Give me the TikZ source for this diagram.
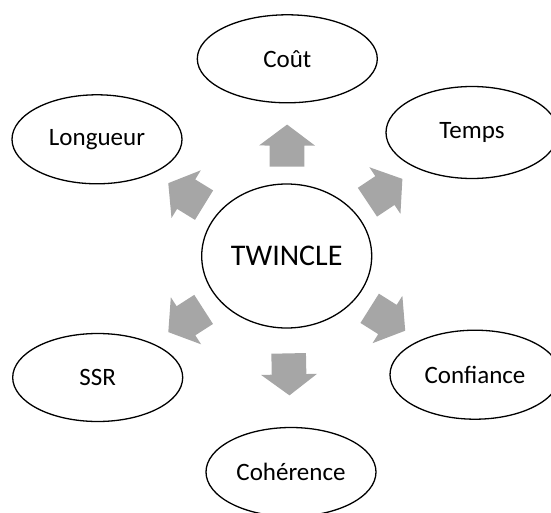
\documentclass[tikz,border=0pt]{standalone}
\usepackage{fontspec}
\setmainfont{Carlito}
\usetikzlibrary{shapes.geometric,calc}
\definecolor{arrowgray}{RGB}{166,166,166}
\tikzset{
  oval/.style={ellipse, draw=black, line width=1.3pt, fill=white, inner sep=0pt,
    minimum width=170pt, minimum height=89pt, font=\fontsize{25}{30}\selectfont},
  bigoval/.style={oval, minimum width=170pt, minimum height=144pt, font=\fontsize{30}{36}\selectfont},
  arrowfill/.style={fill=arrowgray, draw=none}
}
\newcommand\blockarr[3]{%
  \coordinate (m) at ($(#1.center)!#3!(#2.center)$);
  \coordinate (mb) at ($(m)!-21pt!(#2.center)$);
  \fill[arrowfill] ($(mb)!17.3pt!90:(#2.center)$) -- ($(m)!17.3pt!90:(#2.center)$)
    -- ($(m)!28pt!90:(#2.center)$) -- ($(m)!21pt!(#2.center)$)
    -- ($(m)!28pt!-90:(#2.center)$) -- ($(m)!17.3pt!-90:(#2.center)$)
    -- ($(mb)!17.3pt!-90:(#2.center)$) -- cycle;}
\begin{document}
\begin{tikzpicture}[x=1pt,y=-1pt]
\useasboundingbox (0,0) rectangle (551,513);
\clip (0,0) rectangle (551,513);
\node[bigoval] (tw) at (286.7,256) {TWINCLE};
\node[oval, minimum width=180pt, minimum height=88pt] (cout) at (287.3,58.8) {Coût};
\node[oval] (lg) at (97,139.3) {Longueur};
\node[oval, minimum width=172pt, minimum height=92pt] (tp) at (472,132.5) {Temps};
\node[oval, minimum height=88pt] (ssr) at (97.7,377.5) {SSR};
\node[oval] (cf) at (475,374.7) {Confiance};
\node[oval] (coh) at (291,472) {Cohérence};
\blockarr{tw}{cout}{0.56}
\blockarr{tw}{lg}{0.53}
\blockarr{tw}{tp}{0.53}
\blockarr{tw}{ssr}{0.533}
\blockarr{tw}{cf}{0.535}
\blockarr{tw}{coh}{0.548}
\end{tikzpicture}
\end{document}
